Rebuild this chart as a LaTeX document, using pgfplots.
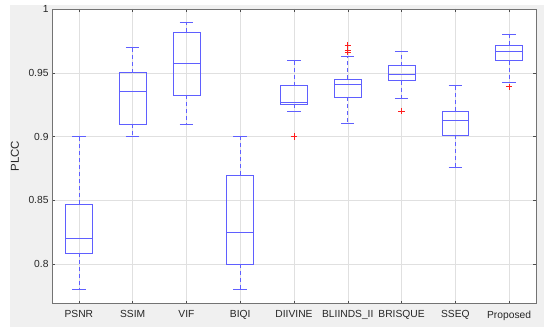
\documentclass[border=0pt]{standalone}
\usepackage{pgfplots}
\pgfplotsset{compat=1.18}
\usepgfplotslibrary{statistics}
\usepackage{fontspec}
\setmainfont{Liberation Sans}
\definecolor{bx}{RGB}{95,95,255}
\definecolor{ol}{RGB}{255,30,30}
\definecolor{figbg}{RGB}{240,240,240}
\definecolor{axc}{RGB}{38,38,38}
\begin{document}
\begin{tikzpicture}
\useasboundingbox (0bp,0bp) rectangle (550bp,334bp);
\fill[white] (0bp,0bp) rectangle (550bp,334bp);
\fill[figbg] (10bp,7bp) rectangle (544bp,329bp);
\begin{axis}[
  at={(52bp,30.3bp)}, anchor=south west,
  scale only axis, width=484bp, height=294.7bp,
  xmin=0.5, xmax=9.5, ymin=0.769, ymax=1,
  axis background/.style={fill=white},
  xtick={1,...,9},
  xticklabels={PSNR,SSIM,VIF,BIQI,DIIVINE,BLIINDS\_II,BRISQUE,SSEQ,Proposed},
  ytick={0.8,0.85,0.9,0.95,1},
  yticklabels={0.8,0.85,0.9,0.95,1},
  grid=major, grid style={black!12, line width=0.5pt},
  axis line style={black!55, line width=0.6pt},
  tick style={black!70, line width=0.5pt},
  major tick length=3bp,
  tick align=inside,
  tick label style={font=\fontsize{10.3}{12}\selectfont, text=axc},
  xticklabel style={yshift=-3.5bp},
  every axis y label/.style={at={(axis description cs:-0.0764,0.5)}, rotate=90, anchor=center},
  ylabel={PLCC},
  ylabel style={font=\fontsize{11.5}{13}\selectfont, text=axc},
  /pgf/number format/assume math mode=true,
  boxplot/draw direction=y,
  boxplot/box extend=0.5,
  boxplot/whisker extend=0.25,
  boxplot/every box/.style={draw=bx, line width=0.6pt},
  boxplot/every median/.style={draw=bx, line width=0.6pt},
  boxplot/every whisker/.style={draw=bx, line width=0.6pt},
  boxplot/draw/lower whisker/.code={%
    \draw[/pgfplots/boxplot/every whisker/.try, dash pattern=on 4bp off 3bp]
      (boxplot cs:\pgfplotsboxplotvalue{lower quartile}) -- (boxplot cs:\pgfplotsboxplotvalue{lower whisker});
    \draw[/pgfplots/boxplot/every whisker/.try]
      (boxplot whisker cs:\pgfplotsboxplotvalue{lower whisker},0) -- (boxplot whisker cs:\pgfplotsboxplotvalue{lower whisker},1);
  },
  boxplot/draw/upper whisker/.code={%
    \draw[/pgfplots/boxplot/every whisker/.try, dash pattern=on 4bp off 3bp]
      (boxplot cs:\pgfplotsboxplotvalue{upper quartile}) -- (boxplot cs:\pgfplotsboxplotvalue{upper whisker});
    \draw[/pgfplots/boxplot/every whisker/.try]
      (boxplot whisker cs:\pgfplotsboxplotvalue{upper whisker},0) -- (boxplot whisker cs:\pgfplotsboxplotvalue{upper whisker},1);
  },
  mybox/.style={color=bx, mark=none},
]
% PSNR
\addplot[mybox, boxplot prepared={draw position=1, lower whisker=0.780, lower quartile=0.8086, median=0.820, upper quartile=0.847, upper whisker=0.900}] coordinates {};
% SSIM
\addplot[mybox, boxplot prepared={draw position=2, lower whisker=0.900, lower quartile=0.910, median=0.9354, upper quartile=0.950, upper whisker=0.970}] coordinates {};
% VIF
\addplot[mybox, boxplot prepared={draw position=3, lower whisker=0.910, lower quartile=0.9323, median=0.9573, upper quartile=0.9818, upper whisker=0.9896}] coordinates {};
% BIQI
\addplot[mybox, boxplot prepared={draw position=4, lower whisker=0.780, lower quartile=0.800, median=0.8253, upper quartile=0.870, upper whisker=0.900}] coordinates {};
% DIIVINE
\addplot[mybox, boxplot prepared={draw position=5, lower whisker=0.9198, lower quartile=0.9255, median=0.9271, upper quartile=0.940, upper whisker=0.960}] coordinates {};
% BLIINDS_II
\addplot[mybox, boxplot prepared={draw position=6, lower whisker=0.9107, lower quartile=0.931, median=0.9412, upper quartile=0.945, upper whisker=0.9628}] coordinates {};
% BRISQUE
\addplot[mybox, boxplot prepared={draw position=7, lower whisker=0.9302, lower quartile=0.9438, median=0.9492, upper quartile=0.9555, upper whisker=0.9667}] coordinates {};
% SSEQ
\addplot[mybox, boxplot prepared={draw position=8, lower whisker=0.8758, lower quartile=0.901, median=0.9125, upper quartile=0.920, upper whisker=0.940}] coordinates {};
% Proposed
\addplot[mybox, boxplot prepared={draw position=9, lower whisker=0.9427, lower quartile=0.9596, median=0.9667, upper quartile=0.9719, upper whisker=0.980}] coordinates {};
% outliers
\addplot[ol, only marks, mark=+, mark size=3.2bp, line width=0.8pt, mark options={ol, solid}] coordinates {
  (5,0.900) (6,0.9713) (6,0.9677) (6,0.9662) (7,0.920) (9,0.939)
};
\end{axis}
\end{tikzpicture}
\end{document}
